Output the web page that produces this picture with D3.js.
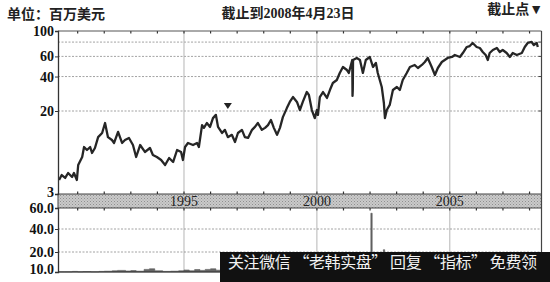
<!DOCTYPE html>
<html>
<head>
<meta charset="utf-8">
<script src="https://cdn.jsdelivr.net/npm/d3@7"></script>
<style>
  body { margin: 0; background: #fff; }
  svg { display: block; }
</style>
</head>
<body>
<svg id="chart" width="550" height="282"></svg>
<script>
// price, in millions of USD (decimal years)
const priceDates = [
  1990.30, 1990.40, 1990.53, 1990.64, 1990.79, 1990.86, 1990.97, 1991.02, 1991.17, 1991.24,
  1991.35, 1991.47, 1991.54, 1991.65, 1991.77, 1991.92, 1992.03, 1992.14, 1992.29, 1992.37,
  1992.52, 1992.67, 1992.78, 1992.93, 1993.08, 1993.20, 1993.35, 1993.53, 1993.72, 1993.83,
  1993.98, 1994.14, 1994.29, 1994.44, 1994.59, 1994.74, 1994.89, 1994.96, 1995.04, 1995.15,
  1995.34, 1995.49, 1995.56, 1995.68, 1995.75, 1995.86, 1995.98, 1996.09, 1996.20, 1996.28,
  1996.43, 1996.54, 1996.65, 1996.80, 1996.92, 1997.03, 1997.18, 1997.29, 1997.41, 1997.56,
  1997.67, 1997.78, 1997.93, 1998.05, 1998.16, 1998.27, 1998.38, 1998.50, 1998.61, 1998.72,
  1998.87, 1998.98, 1999.10, 1999.25, 1999.36, 1999.47, 1999.62, 1999.70, 1999.81, 1999.92,
  2000.00, 2000.04, 2000.11, 2000.23, 2000.38, 2000.49, 2000.60, 2000.75, 2000.86, 2000.98,
  2001.13, 2001.20, 2001.28, 2001.33, 2001.34, 2001.35, 2001.36, 2001.50, 2001.62, 2001.73,
  2001.84, 2001.99, 2002.11, 2002.22, 2002.29, 2002.44, 2002.52, 2002.56, 2002.63, 2002.74,
  2002.86, 2003.01, 2003.12, 2003.23, 2003.38, 2003.50, 2003.68, 2003.80, 2003.95, 2004.06,
  2004.17, 2004.32, 2004.44, 2004.55, 2004.70, 2004.81, 2004.92, 2005.08, 2005.19, 2005.38,
  2005.49, 2005.64, 2005.75, 2005.86, 2006.01, 2006.13, 2006.24, 2006.35, 2006.43, 2006.50,
  2006.62, 2006.77, 2006.88, 2006.99, 2007.14, 2007.26, 2007.37, 2007.52, 2007.71, 2007.82,
  2007.93, 2008.08, 2008.16, 2008.27, 2008.31
];
const priceValues = [
  4.13, 4.63, 4.33, 4.85, 4.42, 4.85, 4.13, 5.82, 6.99, 8.78,
  8.20, 8.78, 7.66, 8.58, 11.0, 12.1, 15.2, 11.0, 10.3, 9.63,
  12.4, 9.63, 10.3, 10.8, 9.19, 6.99, 9.19, 7.84, 8.58, 7.32,
  6.99, 6.53, 5.82, 6.83, 6.23, 8.20, 7.84, 6.53, 8.78, 9.63,
  9.19, 9.63, 8.78, 14.5, 13.6, 15.2, 13.9, 17.0, 18.3, 13.9,
  12.1, 13.0, 11.0, 11.6, 9.85, 12.1, 13.0, 11.0, 10.8, 13.0,
  13.9, 15.2, 13.0, 13.6, 14.5, 16.3, 13.6, 11.6, 13.6, 17.4,
  21.2, 24.0, 26.5, 24.0, 20.4, 24.0, 29.3, 27.6, 20.4, 17.0,
  20.4, 18.3, 26.5, 29.3, 26.0, 30.5, 35.1, 37.3, 43.0, 48.5,
  45.6, 43.0, 50.5, 55.8, 27.1, 30.5, 55.8, 58.1, 55.8, 43.0,
  55.8, 59.3, 48.5, 52.5, 43.0, 32.4, 23.5, 17.0, 20.4, 22.6,
  30.5, 32.4, 30.5, 37.3, 43.0, 48.5, 50.5, 47.5, 50.5, 53.6,
  58.1, 48.5, 41.3, 47.5, 53.6, 55.8, 58.1, 59.3, 61.7, 59.3,
  64.2, 72.5, 73.9, 78.6, 72.5, 71.0, 65.6, 61.7, 55.8, 64.2,
  68.2, 71.0, 65.6, 68.2, 64.2, 59.3, 64.2, 61.7, 64.2, 72.5,
  78.6, 80.2, 75.5, 78.6, 72.5
];

// lower panel series
const volDates = [
  1990.30, 1990.50, 1990.80, 1991.00, 1991.20, 1991.50, 1991.80, 1992.00, 1992.30, 1992.50,
  1992.80, 1993.00, 1993.20, 1993.50, 1993.70, 1993.90, 1994.20, 1994.50, 1994.80, 1995.00,
  1995.20, 1995.40, 1995.60, 1995.80, 1996.00, 1996.20, 1996.60, 1997.00, 1997.50, 1998.00,
  1998.50, 1999.00, 1999.50, 2000.00, 2000.50, 2001.00, 2001.50, 2001.98, 2002.03, 2002.08,
  2002.45, 2002.50, 2002.55, 2003.00, 2003.50, 2004.00, 2004.50, 2005.00, 2005.50, 2006.00,
  2006.50, 2007.00, 2007.50, 2008.00, 2008.31
];
const volValues = [
  10.1, 10.1, 10.3, 10.1, 10.2, 10.1, 10.3, 10.4, 10.6, 10.8,
  10.5, 10.7, 10.4, 11.3, 11.6, 10.6, 10.3, 10.4, 10.6, 11.0,
  10.6, 11.2, 10.8, 11.3, 11.6, 10.9, 11.2, 11.4, 11.5, 11.8,
  12.0, 12.0, 12.3, 12.5, 12.5, 12.8, 12.5, 12.8, 55.0, 12.8,
  12.5, 22.0, 12.5, 12.3, 12.0, 11.8, 11.8, 11.5, 11.5, 11.8,
  11.8, 12.0, 12.3, 12.5, 12.5
];

const yearTicks = d3.range(1991, 2009);
const yearLabels = [1995, 2000, 2005];
const priceTicks = [100, 60, 40, 20, 3];
const priceGrid = [80, 60, 40, 20];
const volTicks = [60, 40, 20, 10];
const volGrid = [40, 20];
const markerDates = [1996.65];
const markerValues = [22.1];

const font = "'Liberation Serif','Noto Sans CJK SC',serif";
const cjk = "'Liberation Serif','Noto Sans CJK SC',sans-serif";

let svg = d3.select("#chart");

let canvas = {
  "left": 58,
  "right": 541.5,
  "top": 31,
  "bandTop": 194,
  "bandBottom": 208,
  "bottom": 272
};

let xScale = d3.scaleLinear()
  .domain([1990.26, 2008.45])
  .range([canvas.left, canvas.right]);

// piecewise log, the picture's axis is not quite even
let yPrice = d3.scaleLog()
  .domain([3, 20, 100])
  .range([canvas.bandTop, 111, canvas.top]);

let yVol = d3.scaleLinear()
  .domain([10, 20, 40, 60])
  .range([canvas.bottom, 252, 229, canvas.bandBottom]);

// band texture
let defs = svg.append("defs");
let pat = defs.append("pattern")
  .attr("id", "dots")
  .attr("width", 3)
  .attr("height", 3)
  .attr("patternUnits", "userSpaceOnUse");
pat.append("rect").attr("width", 3).attr("height", 3).attr("fill", "#cacaca");
pat.append("rect").attr("x", 0).attr("y", 0).attr("width", 1).attr("height", 1).attr("fill", "#8f8f8f");
pat.append("rect").attr("x", 1.5).attr("y", 1.5).attr("width", 1).attr("height", 1).attr("fill", "#a0a0a0");

// header texts
svg.append("text")
  .attr("x", 7).attr("y", 19)
  .attr("font-family", cjk).attr("font-size", "14px").attr("font-weight", "bold")
  .attr("fill", "#222")
  .text("单位：百万美元");

svg.append("text")
  .attr("x", 288).attr("y", 18)
  .attr("text-anchor", "middle")
  .attr("font-family", cjk).attr("font-size", "14px").attr("font-weight", "bold")
  .attr("fill", "#222")
  .text("截止到2008年4月23日");

svg.append("text")
  .attr("x", 543).attr("y", 14)
  .attr("text-anchor", "end")
  .attr("font-family", cjk).attr("font-size", "14px").attr("font-weight", "bold")
  .attr("fill", "#222")
  .text("截止点▼");

// grids
let grid = svg.append("g");

grid.selectAll(".hgrid")
  .data(priceGrid)
  .join("line")
  .attr("class", "hgrid")
  .attr("x1", canvas.left).attr("x2", canvas.right)
  .attr("y1", d => yPrice(d)).attr("y2", d => yPrice(d))
  .attr("stroke", "#8c8c8c")
  .attr("stroke-width", 0.8)
  .attr("stroke-dasharray", "2,1.5");

grid.selectAll(".vgrid-hi")
  .data(yearLabels)
  .join("line")
  .attr("class", "vgrid-hi")
  .attr("x1", d => xScale(d)).attr("x2", d => xScale(d))
  .attr("y1", canvas.top).attr("y2", canvas.bandTop)
  .attr("stroke", "#b5b5b5")
  .attr("stroke-width", 1);

grid.selectAll(".vgrid-lo")
  .data(yearLabels)
  .join("line")
  .attr("class", "vgrid-lo")
  .attr("x1", d => xScale(d)).attr("x2", d => xScale(d))
  .attr("y1", canvas.bandBottom).attr("y2", canvas.bottom)
  .attr("stroke", "#b5b5b5")
  .attr("stroke-width", 1);

grid.selectAll(".vol-grid")
  .data(volGrid)
  .join("line")
  .attr("class", "vol-grid")
  .attr("x1", canvas.left).attr("x2", canvas.right)
  .attr("y1", d => yVol(d)).attr("y2", d => yVol(d))
  .attr("stroke", "#8c8c8c")
  .attr("stroke-width", 0.8)
  .attr("stroke-dasharray", "2,1.5");

// price line
let priceData = priceDates.map((d, i) => ({"date": d, "value": priceValues[i]}));

let line = d3.line()
  .x(d => xScale(d.date))
  .y(d => yPrice(d.value));

svg.append("path")
  .datum(priceData)
  .attr("d", line)
  .attr("fill", "none")
  .attr("stroke", "#262626")
  .attr("stroke-width", 2.3)
  .attr("stroke-linejoin", "round");

// marker triangle
svg.selectAll(".marker")
  .data(markerDates.map((d, i) => ({"date": d, "value": markerValues[i]})))
  .join("path")
  .attr("class", "marker")
  .attr("transform", d => `translate(${xScale(d.date)}, ${yPrice(d.value)})`)
  .attr("d", "M-4,-3L4,-3L0,3Z")
  .attr("fill", "#222");

// lower panel
let volData = volDates.map((d, i) => ({"date": d, "value": volValues[i]}));

let area = d3.area()
  .x(d => xScale(d.date))
  .y0(canvas.bottom)
  .y1(d => yVol(d.value))
  .curve(d3.curveStepAfter);

svg.append("path")
  .datum(volData)
  .attr("d", area)
  .attr("fill", "#666")
  .attr("stroke", "#555")
  .attr("stroke-width", 0.6);

// band with years
svg.append("rect")
  .attr("x", canvas.left)
  .attr("y", canvas.bandTop)
  .attr("width", canvas.right - canvas.left)
  .attr("height", canvas.bandBottom - canvas.bandTop)
  .attr("fill", "url(#dots)")
  .attr("stroke", "#444")
  .attr("stroke-width", 1);

svg.selectAll(".year")
  .data(yearLabels)
  .join("text")
  .attr("class", "year")
  .attr("x", d => xScale(d))
  .attr("y", 206)
  .attr("text-anchor", "middle")
  .attr("font-family", font)
  .attr("font-size", "14px")
  .attr("fill", "#222")
  .text(d => d);

// year ticks on frame edges
let tickRows = [
  {"y": canvas.top, "dir": 1},
  {"y": canvas.bandTop, "dir": -1},
  {"y": canvas.bandBottom, "dir": 1}
];
for (let row of tickRows) {
  svg.append("g")
    .selectAll("line")
    .data(yearTicks)
    .join("line")
    .attr("x1", d => xScale(d)).attr("x2", d => xScale(d))
    .attr("y1", row.y).attr("y2", row.y + row.dir * 2.5)
    .attr("stroke", "#333")
    .attr("stroke-width", 1.2);
}

// frame lines
svg.append("line")
  .attr("x1", canvas.left).attr("x2", canvas.right)
  .attr("y1", canvas.top).attr("y2", canvas.top)
  .attr("stroke", "#555").attr("stroke-width", 1);

svg.append("line")
  .attr("x1", canvas.right).attr("x2", canvas.right)
  .attr("y1", canvas.top).attr("y2", canvas.bottom)
  .attr("stroke", "#444").attr("stroke-width", 1.2);

svg.append("line")
  .attr("x1", canvas.left).attr("x2", canvas.right)
  .attr("y1", canvas.bottom).attr("y2", canvas.bottom)
  .attr("stroke", "#333").attr("stroke-width", 1.2);

// right side ticks
svg.append("g")
  .selectAll("line")
  .data(priceGrid)
  .join("line")
  .attr("x1", canvas.right - 3).attr("x2", canvas.right)
  .attr("y1", d => yPrice(d)).attr("y2", d => yPrice(d))
  .attr("stroke", "#444");

// left axes
let gPrice = svg.append("g")
  .attr("transform", `translate(${canvas.left}, 0)`)
  .call(d3.axisLeft(yPrice).tickValues(priceTicks).tickFormat(d3.format("d")).tickSize(3).tickPadding(1));

let gVol = svg.append("g")
  .attr("transform", `translate(${canvas.left}, 0)`)
  .call(d3.axisLeft(yVol).tickValues(volTicks).tickFormat(d3.format(".1f")).tickSize(3).tickPadding(1));

for (let g of [gPrice, gVol]) {
  g.select(".domain").attr("stroke", "#333").attr("stroke-width", 1.3);
  g.selectAll(".tick line").attr("stroke", "#333");
  g.selectAll(".tick text")
    .attr("font-family", font)
    .attr("font-size", "14px")
    .attr("font-weight", "bold")
    .attr("fill", "#111");
}
gPrice.selectAll(".tick text").filter(d => d === 3).attr("dy", "0.2em");
gVol.selectAll(".tick text").filter(d => d === 10).attr("dy", "0.1em");

// watermark strip
svg.append("rect")
  .attr("x", 220).attr("y", 252)
  .attr("width", 330).attr("height", 30)
  .attr("fill", "#111");

svg.append("text")
  .attr("x", 228).attr("y", 268)
  .attr("font-family", "'Noto Sans CJK SC',sans-serif")
  .attr("font-size", "16px")
  .attr("fill", "#f2f2f2")
  .attr("textLength", 309)
  .attr("lengthAdjust", "spacing")
  .text("关注微信 “老韩实盘” 回复 “指标” 免费领");
</script>
</body>
</html>
